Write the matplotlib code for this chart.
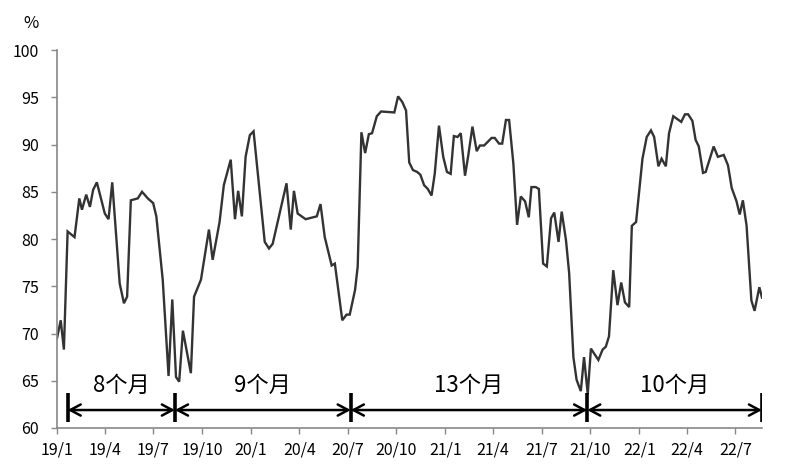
import matplotlib
matplotlib.use("Agg")
import matplotlib.pyplot as plt
import pandas as pd

plt.rcParams['font.family'] = ['Noto Sans CJK SC', 'DejaVu Sans']

# utilisation rate, %
dates = [
    "2019-01-01", "2019-01-08", "2019-01-14", "2019-01-21", "2019-02-03", "2019-02-12",
    "2019-02-17", "2019-02-25", "2019-03-04", "2019-03-10", "2019-03-17", "2019-04-01",
    "2019-04-08", "2019-04-15", "2019-04-29", "2019-05-07", "2019-05-13", "2019-05-20",
    "2019-06-02", "2019-06-10", "2019-06-21", "2019-07-01", "2019-07-07", "2019-07-11",
    "2019-07-19", "2019-07-30", "2019-08-06", "2019-08-13", "2019-08-19", "2019-08-26",
    "2019-09-10", "2019-09-16", "2019-09-29", "2019-10-14", "2019-10-21", "2019-11-03",
    "2019-11-11", "2019-11-24", "2019-12-02", "2019-12-08", "2019-12-15", "2019-12-22",
    "2019-12-30", "2020-01-06", "2020-01-27", "2020-02-04", "2020-02-11", "2020-03-08",
    "2020-03-16", "2020-03-22", "2020-03-29", "2020-04-13", "2020-05-04", "2020-05-11",
    "2020-05-19", "2020-06-01", "2020-06-07", "2020-06-21", "2020-06-29", "2020-07-05",
    "2020-07-15", "2020-07-20", "2020-07-27", "2020-08-03", "2020-08-10", "2020-08-16",
    "2020-08-25", "2020-09-02", "2020-09-27", "2020-10-04", "2020-10-12", "2020-10-19",
    "2020-10-25", "2020-11-01", "2020-11-09", "2020-11-15", "2020-11-22", "2020-11-29",
    "2020-12-06", "2020-12-12", "2020-12-20", "2020-12-28", "2021-01-04", "2021-01-11",
    "2021-01-17", "2021-01-24", "2021-01-30", "2021-02-07", "2021-02-13", "2021-02-21",
    "2021-03-01", "2021-03-07", "2021-03-15", "2021-03-29", "2021-04-04", "2021-04-12",
    "2021-04-18", "2021-04-25", "2021-05-01", "2021-05-09", "2021-05-16", "2021-05-23",
    "2021-05-31", "2021-06-07", "2021-06-12", "2021-06-20", "2021-06-26", "2021-07-04",
    "2021-07-11", "2021-07-19", "2021-07-25", "2021-08-02", "2021-08-08", "2021-08-16",
    "2021-08-22", "2021-08-30", "2021-09-05", "2021-09-13", "2021-09-19", "2021-09-26",
    "2021-10-02", "2021-10-16", "2021-10-24", "2021-10-30", "2021-11-05", "2021-11-13",
    "2021-11-21", "2021-11-28", "2021-12-05", "2021-12-13", "2021-12-18", "2021-12-26",
    "2022-01-07", "2022-01-15", "2022-01-23", "2022-01-29", "2022-02-06", "2022-02-12",
    "2022-02-20", "2022-02-26", "2022-03-06", "2022-03-21", "2022-03-28", "2022-04-03",
    "2022-04-11", "2022-04-17", "2022-04-23", "2022-05-01", "2022-05-06", "2022-05-21",
    "2022-05-29", "2022-06-09", "2022-06-17", "2022-06-24", "2022-07-03", "2022-07-09",
    "2022-07-15", "2022-07-22", "2022-07-31", "2022-08-06", "2022-08-15", "2022-08-20",
]
values = [
    69.5, 71.4, 68.3, 80.8, 80.2, 84.3,
    83.1, 84.7, 83.4, 85.2, 86.0, 82.7,
    82.1, 86.0, 75.3, 73.2, 73.9, 84.1,
    84.3, 85.0, 84.3, 83.8, 82.4, 80.2,
    75.7, 65.5, 73.6, 65.4, 64.9, 70.3,
    65.8, 73.9, 75.7, 81.0, 77.8, 81.8,
    85.7, 88.4, 82.1, 85.1, 82.4, 88.7,
    91.0, 91.4, 79.7, 79.0, 79.5, 85.9,
    81.0, 85.1, 82.7, 82.1, 82.4, 83.7,
    80.2, 77.2, 77.4, 71.4, 72.0, 72.0,
    74.6, 77.1, 91.3, 89.1, 91.1, 91.2,
    93.0, 93.5, 93.4, 95.1, 94.5, 93.6,
    88.1, 87.3, 87.1, 86.8, 85.7, 85.3,
    84.6, 86.9, 92.0, 88.7, 87.1, 86.9,
    90.9, 90.8, 91.2, 86.7, 88.8, 91.9,
    89.3, 89.9, 89.9, 90.7, 90.7, 90.1,
    90.1, 92.6, 92.6, 88.0, 81.5, 84.5,
    84.0, 82.3, 85.5, 85.5, 85.3, 77.4,
    77.1, 82.2, 82.8, 79.7, 82.9, 79.9,
    76.4, 67.5, 65.1, 63.9, 67.5, 63.6,
    68.4, 67.2, 68.3, 68.6, 69.7, 76.7,
    73.0, 75.4, 73.3, 72.8, 81.4, 81.8,
    88.5, 90.8, 91.5, 90.8, 87.7, 88.5,
    87.7, 91.2, 93.0, 92.4, 93.2, 93.2,
    92.5, 90.5, 89.8, 87.0, 87.1, 89.8,
    88.7, 88.9, 87.8, 85.4, 84.0, 82.6,
    84.1, 81.4, 73.5, 72.4, 74.9, 73.8,
]

# cycle boundaries and labels
cycle_edges = ["2019-01-21", "2019-08-11", "2020-07-07", "2021-09-25", "2022-08-20"]
cycle_labels = ["8个月", "9个月", "13个月", "10个月"]

tick_dates = pd.date_range("2019-01-01", "2022-07-01", freq="3MS")
tick_labels = [f"{d.year % 100}/{d.month}" for d in tick_dates]

x = pd.to_datetime(dates)
edges = pd.to_datetime(cycle_edges)

fig = plt.figure(figsize=(7.85, 4.68), dpi=100)
ax = fig.add_axes([0.0726, 0.0855, 0.8981, 0.8075])

ax.plot(x, values, color='#333333', lw=1.7, solid_joinstyle='miter')

ax.set_xlim(pd.Timestamp("2019-01-01"), pd.Timestamp("2022-08-20"))
ax.set_ylim(60, 100)
ax.set_yticks(range(60, 101, 5))
ax.set_xticks(tick_dates)
ax.set_xticklabels(tick_labels)
ax.tick_params(axis='both', labelsize=11.5, color='#888888', length=4, width=1)
ax.tick_params(axis='x', pad=6)
ax.tick_params(axis='y', pad=9)

for s in ['top', 'right']:
    ax.spines[s].set_visible(False)
for s in ['left', 'bottom']:
    ax.spines[s].set_color('#888888')
    ax.spines[s].set_linewidth(1.2)

ax.text(-0.048, 1.07, '%', transform=ax.transAxes, fontsize=12, ha='left', va='center')

# brackets for each cycle
arrow_y = 61.9
for e in edges:
    ax.plot([e, e], [60.6, 63.7], color='black', lw=2.6, solid_capstyle='butt')
for i, lab in enumerate(cycle_labels):
    a, b = edges[i], edges[i + 1]
    ax.annotate('', xy=(b, arrow_y), xytext=(a, arrow_y),
                arrowprops=dict(arrowstyle='<->,head_length=0.75,head_width=0.4',
                                color='black', lw=1.8, shrinkA=0, shrinkB=0))
    mid = a + (b - a) / 2
    ax.text(mid, 64.5, lab, fontsize=16, ha='center', va='center')

fig.savefig('out.png', dpi=100)
